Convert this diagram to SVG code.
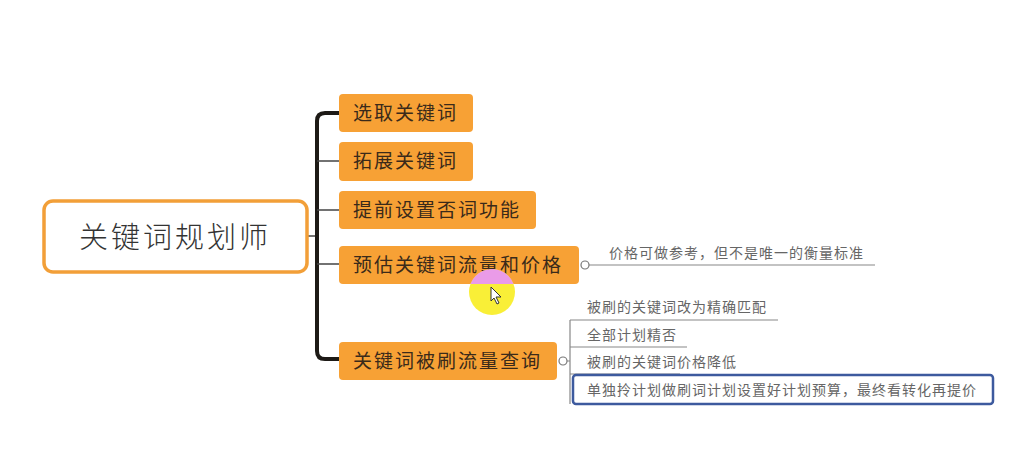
<svg xmlns="http://www.w3.org/2000/svg" width="1015" height="463" viewBox="0 0 1015 463">
<defs>
<style>
.node{fill:#f7a135;}
.nt{font-family:"Noto Sans CJK SC","Liberation Sans",sans-serif;font-size:19px;fill:#3a2a1a;letter-spacing:2px;}
.sub{font-family:"Noto Sans CJK SC","Liberation Sans",sans-serif;font-size:14px;fill:#666;letter-spacing:1px;}
.ln{stroke:#888;stroke-width:1.2;fill:none;}
.br{stroke:#444;stroke-width:1.5;fill:none;}
</style>
<clipPath id="nodeclip"><rect x="339" y="246" width="240" height="38" rx="4"/></clipPath>
</defs>
<rect width="1015" height="463" fill="#fff"/>
<g id="connectors">
<path d="M308 236 H317" class="br"/>
<path d="M339 113 H325 Q317 113 317 121 V351 Q317 359 325 359 H339" stroke="#1d1a16" stroke-width="4" fill="none"/>
<path d="M317 161 H339 M317 210 H339 M317 264 H339" class="br"/>
<path d="M589 265 H875" class="ln"/>
<circle cx="585" cy="265" r="4" fill="#fff" stroke="#777" stroke-width="1.2"/>
<path d="M567 361 H570 M570 320 V404 M570 320 H778 M570 347 H687 M570 374 H680" class="ln"/>
<circle cx="563" cy="361" r="4" fill="#fff" stroke="#777" stroke-width="1.2"/>
</g>
<g id="root">
<rect x="44" y="201" width="263" height="71" rx="9" fill="#fff" stroke="#f29f38" stroke-width="3.5"/>
<text x="175" y="248" text-anchor="middle" font-family="'Noto Sans CJK SC','Liberation Sans',sans-serif" font-size="29" font-weight="300" fill="#333" letter-spacing="3">关键词规划师</text>
</g>
<g id="n1"><rect class="node" x="339" y="94" width="134" height="38" rx="4"/><text class="nt" x="353" y="120">选取关键词</text></g>
<g id="n2"><rect class="node" x="339" y="142" width="134" height="39" rx="4"/><text class="nt" x="353" y="168">拓展关键词</text></g>
<g id="n3"><rect class="node" x="339" y="191" width="197" height="38" rx="4"/><text class="nt" x="353" y="217">提前设置否词功能</text></g>
<g id="n4"><rect class="node" x="339" y="246" width="240" height="38" rx="4"/><text class="nt" x="353" y="272">预估关键词流量和价格</text></g>
<g id="n5"><rect class="node" x="339" y="342" width="218" height="38" rx="4"/><text class="nt" x="353" y="368">关键词被刷流量查询</text></g>
<g id="s1"><text class="sub" x="609" y="258">价格可做参考，但不是唯一的衡量标准</text></g>
<g id="s2"><text class="sub" x="587" y="312">被刷的关键词改为精确匹配</text></g>
<g id="s3"><text class="sub" x="587" y="340">全部计划精否</text></g>
<g id="s4"><text class="sub" x="587" y="367">被刷的关键词价格降低</text></g>
<g id="s5">
<rect x="573" y="375" width="420" height="29" rx="3" fill="#fff" stroke="#3d5a9e" stroke-width="2.5"/>
<text class="sub" x="587" y="395">单独拎计划做刷词计划设置好计划预算，最终看转化再提价</text>
</g>
<g id="cursor">
<circle cx="492" cy="292" r="23" fill="#f9ee2c" opacity="0.95"/>
<circle cx="492" cy="292" r="23" fill="#ea9be8" clip-path="url(#nodeclip)"/>
<path d="M491 287 L491 301 L494 298 L497 304 L499 303 L496 297 L501 297 Z" fill="#fff" stroke="#333" stroke-width="1"/>
</g>
</svg>
